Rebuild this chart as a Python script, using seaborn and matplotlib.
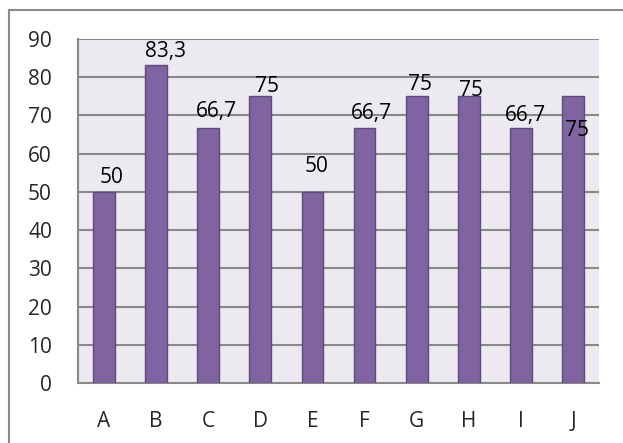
import numpy as np
import pandas as pd
import matplotlib
matplotlib.use("Agg")
import matplotlib.pyplot as plt
import seaborn as sns
from matplotlib.lines import Line2D

# дані
categories = ['A', 'B', 'C', 'D', 'E', 'F', 'G', 'H', 'I', 'J']
values = [50, 83.3, 66.7, 75, 50, 66.7, 75, 75, 66.7, 75]
labels = ['50', '83,3', '66,7', '75', '50', '66,7', '75', '75', '66,7', '75']

# зсув підписів (пікселі) - як в оригіналі
label_dx = [8, 9, 8, 7, 4, 7, 3.5, 2, 5, 4.5]
label_dy = [9, 7.5, 11, 4, 19.5, 9.5, 6.5, 0, 7.5, -40]

df = pd.DataFrame({'cat': categories, 'val': values})

sns.set_style("white")
plt.rcParams['font.family'] = ['Open Sans', 'DejaVu Sans']

fig = plt.figure(figsize=(6.23, 4.43), dpi=100)
ax = fig.add_axes([78 / 623, 60 / 443, 521 / 623, 344 / 443])

# рамка діаграми (видно лише верх і ліву сторону - картинка обрізана)
fig.add_artist(Line2D([9 / 623, 1.0], [433 / 443, 433 / 443], transform=fig.transFigure,
                      color='#8a8a8a', linewidth=1.5))
fig.add_artist(Line2D([9 / 623, 9 / 623], [0.0, 433 / 443], transform=fig.transFigure,
                      color='#8a8a8a', linewidth=1.5))

ax.set_facecolor('#ECEAF0')
sns.barplot(data=df, x='cat', y='val', color='#8064A2', saturation=1, width=0.42,
            edgecolor='#5E4A7E', linewidth=1, ax=ax, zorder=3)

ax.set_ylim(0, 90)
ax.set_xlim(-0.5, 9.5)
ax.set_yticks(np.arange(0, 91, 10))
ax.yaxis.grid(True, color='#898989', linewidth=1.5, zorder=0)
ax.set_axisbelow(True)
ax.set_xlabel('')
ax.set_ylabel('')

for s in ['top', 'right']:
    ax.spines[s].set_visible(False)
for s in ['left', 'bottom']:
    ax.spines[s].set_color('#898989')
    ax.spines[s].set_linewidth(1.5)

# мітки на межах категорій
ax.set_xticks(np.arange(-0.5, 10, 1), minor=True)
ax.tick_params(axis='x', which='major', length=0, pad=20, labelsize=15)
ax.tick_params(axis='x', which='minor', length=5.8, width=1.5, color='#898989', direction='out')
ax.tick_params(axis='y', length=5.8, width=1.5, color='#898989', direction='out', pad=13, labelsize=15)

for i, (v, t) in enumerate(zip(values, labels)):
    ax.annotate(t, xy=(i, v), xytext=(label_dx[i], label_dy[i]), textcoords='offset pixels',
                ha='center', va='baseline', fontsize=15, color='black', zorder=5)

fig.savefig('out.png', dpi=100)
